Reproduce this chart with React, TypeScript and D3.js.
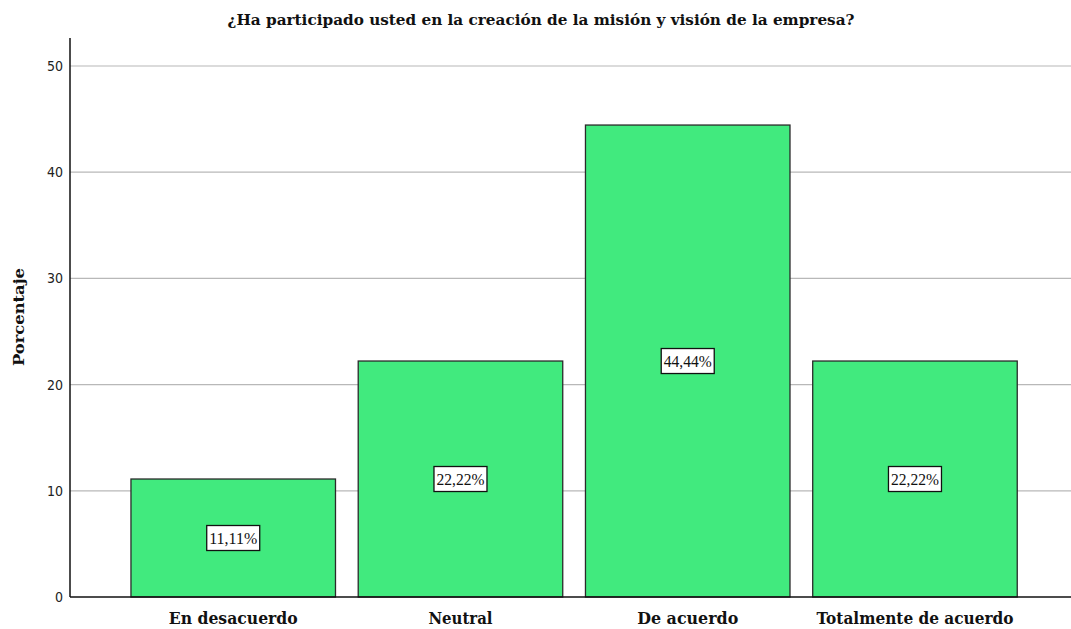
import React from "react";
import * as d3 from "d3";

const categories = ["En desacuerdo", "Neutral", "De acuerdo", "Totalmente de acuerdo"];
const values = [11.11, 22.22, 44.44, 22.22];
const valueLabels = ["11,11%", "22,22%", "44,44%", "22,22%"];
const yTicks = [0, 10, 20, 30, 40, 50];
const catLabelWidths = [129, 64, 101, 197];

const W = 1071;
const H = 629;
const axisX = 70;
const axisTop = 38;
const axisBottom = 597;

export default function App() {
  const y = d3.scaleLinear().domain([0, 50]).range([axisBottom, 66]);
  const x = d3
    .scaleBand<string>()
    .domain(categories)
    .range([119.6, 1028.6])
    .paddingInner(0.1)
    .paddingOuter(0.05);
  const serif = "'DejaVu Serif', 'Liberation Serif', serif";
  const serif2 = "'Liberation Serif', 'DejaVu Serif', serif";
  const sans = "'DejaVu Sans Condensed', 'Liberation Sans Narrow', 'DejaVu Sans', sans-serif";
  return (
    <svg
      width={W}
      height={H}
      style={{ position: "absolute", left: 0, top: 0, background: "#fff" }}
    >
      <rect x={0} y={0} width={W} height={H} fill="#fff" />
      <text
        x={541}
        y={25}
        textAnchor="middle"
        fontFamily={serif}
        fontWeight="bold"
        fontSize={15}
        textLength={627}
        lengthAdjust="spacingAndGlyphs"
        fill="#111"
      >
        ¿Ha participado usted en la creación de la misión y visión de la empresa?
      </text>
      {yTicks.map((t) => (
        <g key={t}>
          {t > 0 && (
            <line x1={axisX} x2={W} y1={y(t)} y2={y(t)} stroke="#b8b8b8" strokeWidth={1.2} />
          )}
          <text
            x={63}
            y={y(t)}
            dy="0.36em"
            textAnchor="end"
            fontFamily={sans}
            fontSize={14}
            fill="#222"
          >
            {t}
          </text>
        </g>
      ))}
      {categories.map((c, i) => {
        const bx = x(c)!;
        const bw = x.bandwidth();
        const top = y(values[i]);
        const midY = (top + y(0)) / 2;
        const cx = bx + bw / 2;
        const lw = 53;
        const lh = 25;
        return (
          <g key={c}>
            <rect
              x={bx}
              y={top}
              width={bw}
              height={y(0) - top}
              fill="#41EA7E"
              stroke="#2a2a2a"
              strokeWidth={1.3}
            />
            <rect
              x={cx - lw / 2}
              y={midY - lh / 2}
              width={lw}
              height={lh}
              fill="#fff"
              stroke="#111"
              strokeWidth={1.3}
            />
            <text
              x={cx}
              y={midY}
              dy="0.36em"
              textAnchor="middle"
              fontFamily={serif2}
              fontSize={16}
              textLength={48}
              lengthAdjust="spacingAndGlyphs"
              fill="#111"
            >
              {valueLabels[i]}
            </text>
            <text
              x={cx}
              y={624}
              textAnchor="middle"
              fontFamily={serif}
              fontWeight="bold"
              fontSize={16}
              textLength={catLabelWidths[i]}
              lengthAdjust="spacingAndGlyphs"
              fill="#111"
            >
              {c}
            </text>
          </g>
        );
      })}
      <line x1={axisX} x2={axisX} y1={axisTop} y2={axisBottom} stroke="#111" strokeWidth={1.5} />
      <line x1={axisX} x2={W} y1={axisBottom} y2={axisBottom} stroke="#111" strokeWidth={1.5} />
      <text
        transform={`translate(24, 317) rotate(-90)`}
        textAnchor="middle"
        fontFamily={serif}
        fontWeight="bold"
        fontSize={15}
        textLength={98}
        lengthAdjust="spacingAndGlyphs"
        fill="#111"
      >
        Porcentaje
      </text>
    </svg>
  );
}
